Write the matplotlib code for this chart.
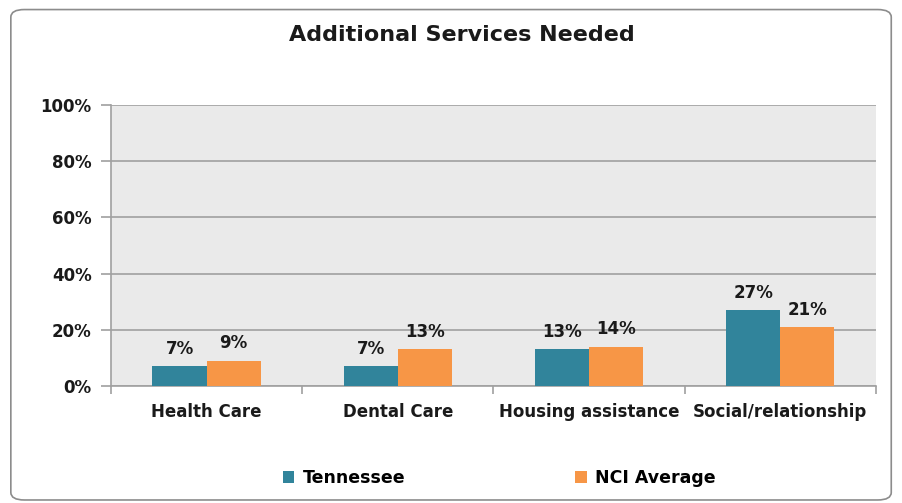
import numpy as np
import matplotlib.pyplot as plt
from matplotlib.patches import FancyBboxPatch
from matplotlib.ticker import FuncFormatter

plt.rcParams['font.family'] = ['DejaVu Sans']

categories = ['Health Care', 'Dental Care', 'Housing assistance', 'Social/relationship']
tennessee = [7, 7, 13, 27]
nci_average = [9, 13, 14, 21]
series_names = ['Tennessee', 'NCI Average']

teal = '#31849B'
orange = '#F79646'

fig = plt.figure(figsize=(9.03, 5.03), dpi=100)
ax = fig.add_axes([0.1229, 0.2326, 0.847, 0.5587])

# outer rounded frame
frame = FancyBboxPatch((0.012, 0.006), 0.975, 0.975,
                       boxstyle='round,pad=0,rounding_size=0.015',
                       transform=fig.transFigure, facecolor='none',
                       edgecolor='#8c8c8c', linewidth=1.2)
fig.patches.append(frame)

x_pos = np.arange(len(categories))
width = 0.283

rects1 = ax.bar(x_pos - width/2, tennessee, width, color=teal, label=series_names[0], zorder=3)
rects2 = ax.bar(x_pos + width/2, nci_average, width, color=orange, label=series_names[1], zorder=3)

ax.set_facecolor('#EAEAEA')
ax.set_xlim(-0.5, len(categories) - 0.5)
ax.set_ylim(0, 100)
ax.set_yticks(np.arange(0, 101, 20))
ax.yaxis.set_major_formatter(FuncFormatter(lambda v, p: '{:.0f}%'.format(v)))
ax.grid(axis='y', color='#a0a0a0', linewidth=1.2, zorder=0)

ax.set_xticks(x_pos)
ax.set_xticklabels(categories, fontsize=12, fontweight='bold', color='#1a1a1a')
ax.set_xticks(np.arange(-0.5, len(categories), 1), minor=True)
ax.tick_params(axis='x', which='major', length=0, pad=12)
ax.tick_params(axis='x', which='minor', length=6, color='#a0a0a0', width=1.2)
ax.tick_params(axis='y', length=7, color='#a0a0a0', width=1.2, pad=7,
               labelsize=12, labelcolor='#1a1a1a')
for lab in ax.get_yticklabels():
    lab.set_fontweight('bold')

for side in ['top', 'right']:
    ax.spines[side].set_visible(False)
ax.spines['left'].set_color('#a0a0a0')
ax.spines['left'].set_linewidth(1.2)
ax.spines['bottom'].set_color('#a0a0a0')
ax.spines['bottom'].set_linewidth(1.2)


def autolabel(rects):
    for rect in rects:
        height = rect.get_height()
        ax.annotate('{}%'.format(height),
                    xy=(rect.get_x() + rect.get_width() / 2, height),
                    xytext=(0, 6),
                    textcoords="offset points",
                    ha='center', va='bottom', fontsize=12,
                    fontweight='bold', color='#1a1a1a')


autolabel(rects1)
autolabel(rects2)

fig.text(0.512, 0.93, 'Additional Services Needed', ha='center', va='center',
         fontsize=16, fontweight='bold', color='#1a1a1a')

fig.legend(handles=[rects1, rects2], labels=series_names, loc='center',
           bbox_to_anchor=(0.553, 0.05), ncol=2, frameon=False,
           prop={'size': 12.5, 'weight': 'bold'}, handlelength=0.65,
           handleheight=0.65, columnspacing=9.8, handletextpad=0.5)

fig.savefig('out.png', dpi=100)
